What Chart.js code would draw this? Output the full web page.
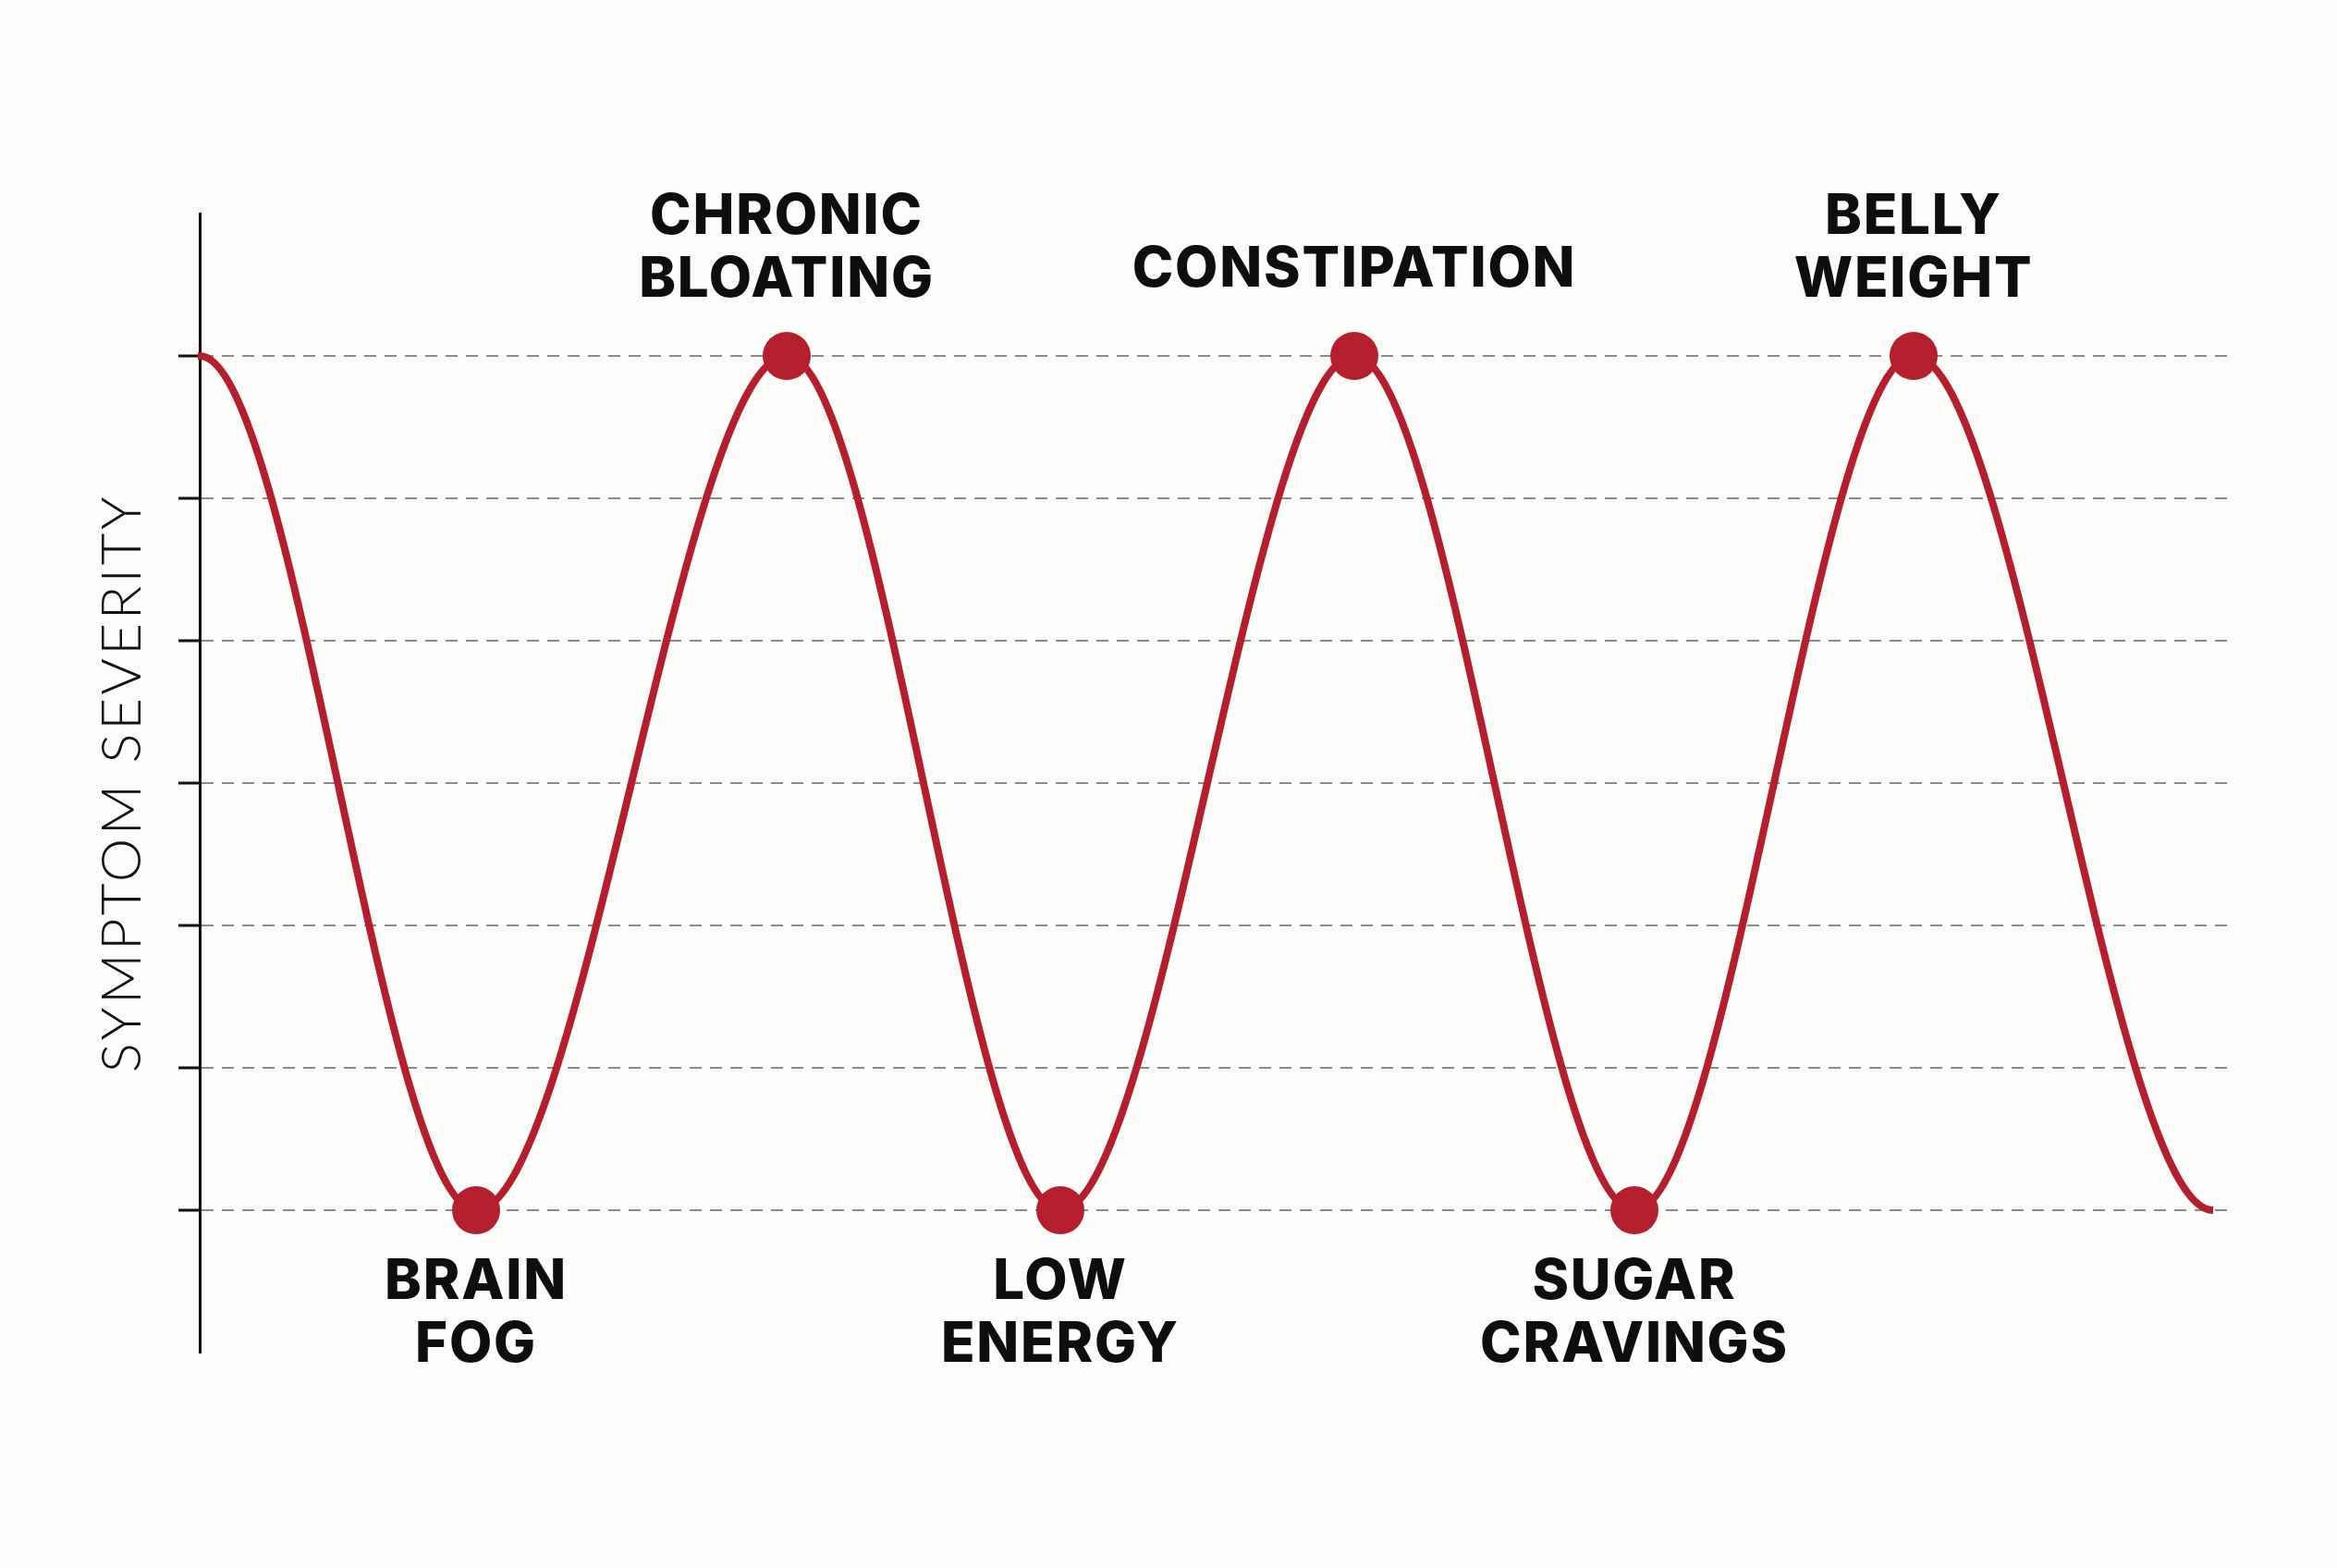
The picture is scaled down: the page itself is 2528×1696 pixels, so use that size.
<!DOCTYPE html>
<html>
<head>
<meta charset="utf-8">
<script src="https://cdn.jsdelivr.net/npm/chart.js@4.4.1/dist/chart.umd.min.js"></script>
<style>
  html, body { margin: 0; padding: 0; background: #fcfcfa; }
  #wrap { width: 2528px; height: 1696px; }
</style>
</head>
<body>
<div id="wrap"><canvas id="myChart" width="2528" height="1696"></canvas></div>
<script>
// turning points of the symptom wave
// (first and last entries are where the wave carries on just outside the frame)
const phase = [-3.0, 0, 2.99, 6.35, 9.31, 12.49, 15.52, 18.54, 21.78, 24.8];
const severity = [0, 6, 0, 6, 0, 6, 0, 6, 0, 6];
const symptoms = [
  [],
  [],
  ['BRAIN', 'FOG'],
  ['CHRONIC', 'BLOATING'],
  ['LOW', 'ENERGY'],
  ['CONSTIPATION'],
  ['SUGAR', 'CRAVINGS'],
  ['BELLY', 'WEIGHT'],
  [],
  []
];
const yTicks = [0, 1, 2, 3, 4, 5, 6];

const RED = '#b51f2d';

var points = phase.map(function (p, i) { return { x: p, y: severity[i] }; });
var dotSize = symptoms.map(function (s) { return s.length ? 26 : 0; });

// wider tracking for the axis title (Chart.js has no letter-spacing option)
var tracking = {
  id: 'tracking',
  beforeDraw: function (chart) { chart.ctx.letterSpacing = '3.5px'; }
};

var symptomLabels = {
  id: 'symptomLabels',
  afterDatasetsDraw: function (chart) {
    var ctx = chart.ctx;
    var meta = chart.getDatasetMeta(0);
    ctx.save();
    ctx.letterSpacing = '1.8px';
    ctx.fillStyle = '#0e0e0e';
    ctx.font = '800 60px Inter, "Open Sans", sans-serif';
    ctx.textAlign = 'center';
    ctx.textBaseline = 'middle';
    var lh = 68;
    meta.data.forEach(function (pt, i) {
      var lines = symptoms[i];
      if (!lines.length) return;
      var up = severity[i] === Math.max.apply(null, severity);
      lines.forEach(function (txt, j) {
        var y;
        if (up) {
          var last = lines.length === 1 ? 93 : 82;
          y = pt.y - last - (lines.length - 1 - j) * lh;
        } else {
          y = pt.y + 78 + j * lh;
        }
        ctx.fillText(txt, pt.x, y);
      });
    });
    ctx.restore();
  }
};

var config = {
  type: 'line',
  data: {
    datasets: [{
      data: points,
      borderColor: RED,
      backgroundColor: RED,
      borderWidth: 8,
      cubicInterpolationMode: 'monotone',
      pointRadius: dotSize,
      pointHoverRadius: dotSize,
      pointBackgroundColor: RED,
      pointBorderWidth: 0,
      fill: false,
      clip: { left: 2, right: -19, top: 60, bottom: 60 }
    }]
  },
  options: {
    responsive: false,
    animation: false,
    devicePixelRatio: 1,
    layout: { padding: { top: 231, bottom: 233, left: 0, right: 115 } },
    plugins: {
      legend: { display: false },
      title: { display: false },
      tooltip: { enabled: false }
    },
    scales: {
      x: {
        type: 'linear',
        display: false,
        min: 0,
        max: 21.97
      },
      y: {
        min: -1,
        max: 7,
        afterFit: function (scale) { scale.width = 216; },
        afterBuildTicks: function (scale) {
          scale.ticks = [-1].concat(yTicks, [7]).map(function (v) { return { value: v }; });
        },
        ticks: { display: false },
        grid: {
          color: function (c) { return yTicks.indexOf(c.tick && c.tick.value) >= 0 ? '#8a8a8a' : 'rgba(0,0,0,0)'; },
          tickColor: function (c) { return yTicks.indexOf(c.tick && c.tick.value) >= 0 ? '#111111' : 'rgba(0,0,0,0)'; },
          lineWidth: 2,
          tickLength: 23,
          tickWidth: 3,
          tickBorderDash: [],
          drawTicks: true
        },
        border: { display: true, color: '#111111', width: 3, dash: [13, 9] },
        title: {
          display: true,
          text: 'SYMPTOM SEVERITY',
          color: '#111111',
          font: { family: 'Lato, "Open Sans", sans-serif', size: 60, weight: 300, lineHeight: 1.2 },
          padding: { top: 97, bottom: 0 }
        }
      }
    }
  },
  plugins: [tracking, symptomLabels]
};

var myChart = new Chart(document.getElementById('myChart'), config);
</script>
</body>
</html>
